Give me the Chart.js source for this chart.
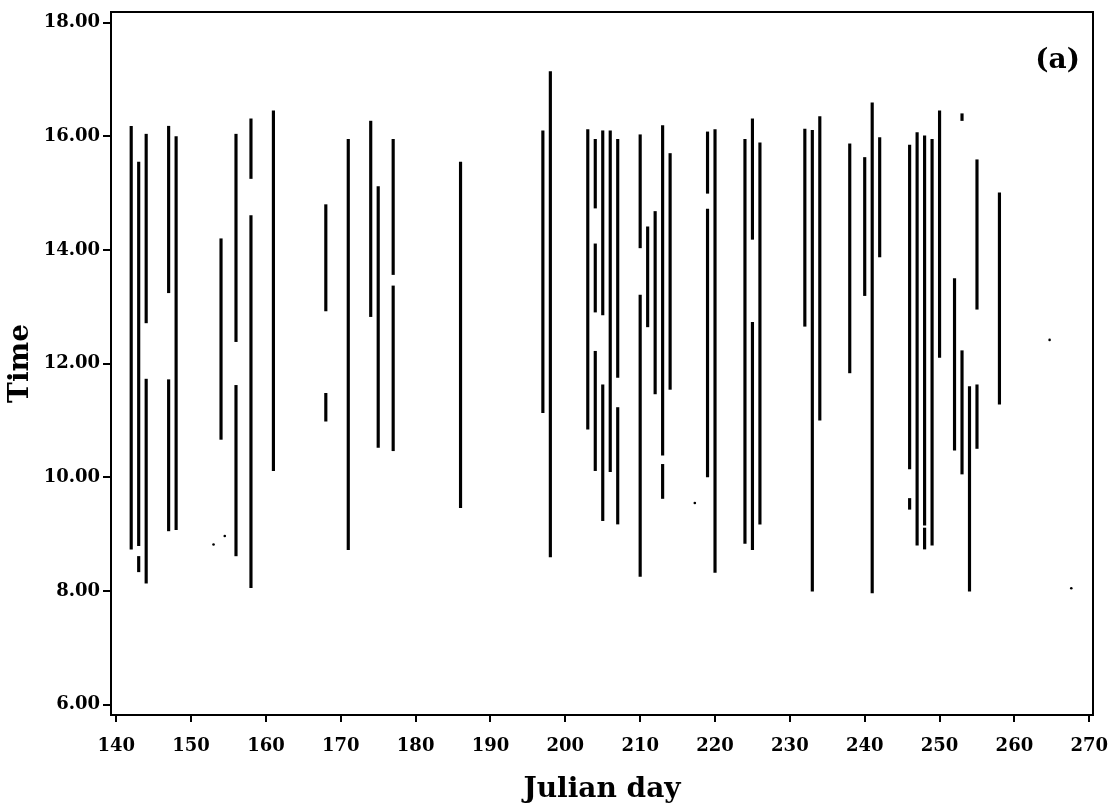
<!DOCTYPE html>
<html>
<head>
<meta charset="utf-8">
<script src="https://cdn.jsdelivr.net/npm/chart.js@4.4.0/dist/chart.umd.min.js"></script>
<style>
  body { margin: 0; background: #fff; }
  canvas { display: block; }
</style>
</head>
<body>
<canvas id="chartCanvas" width="1113" height="809"></canvas>
<script>
// observation segments: julian day, start time, end time
const segDays = [
    142, 143, 143, 144, 144, 147, 147, 148, 154, 156, 156, 158, 158, 161,
    168, 168, 171, 174, 175, 177, 177, 186,
    197, 198, 203, 204, 204, 204, 205, 205, 206, 207, 207, 210, 210, 211, 212, 213, 213, 214,
    219, 219, 220, 224, 225, 225, 226, 232, 233, 234, 238, 240, 241, 242,
    246, 246, 247, 248, 248, 249, 250, 252, 253, 253, 254, 255, 255, 258
];
const segStart = [
    8.74, 8.80, 8.34, 12.72, 8.14, 13.25, 9.06, 9.08, 10.67, 12.39, 8.62, 15.26, 8.06, 10.12,
    12.93, 10.99, 8.73, 12.83, 10.53, 13.57, 10.47, 9.47,
    11.14, 8.60, 10.85, 14.74, 12.91, 10.12, 12.86, 9.24, 10.10, 11.76, 9.18, 14.04, 8.26, 12.65, 11.47, 10.39, 9.63, 11.55,
    15.00, 10.01, 8.33, 8.84, 14.19, 8.73, 9.18, 12.66, 8.00, 11.01, 11.84, 13.20, 7.97, 13.88,
    10.15, 9.44, 8.81, 9.16, 8.74, 8.81, 12.11, 10.48, 10.06, 16.28, 8.00, 12.96, 10.51, 11.29
];
const segEnd = [
    16.18, 15.55, 8.61, 16.04, 11.73, 16.18, 11.72, 16.00, 14.20, 16.04, 11.62, 16.31, 14.61, 16.45,
    14.80, 11.48, 15.95, 16.27, 15.12, 15.95, 13.37, 15.55,
    16.10, 17.14, 16.12, 15.95, 14.11, 12.22, 16.10, 11.63, 16.10, 15.95, 11.23, 16.03, 13.21, 14.41, 14.68, 16.19, 10.23, 15.70,
    16.08, 14.72, 16.12, 15.95, 16.31, 12.73, 15.89, 16.13, 16.11, 16.35, 15.87, 15.63, 16.59, 15.98,
    15.85, 9.63, 16.07, 16.01, 9.11, 15.95, 16.45, 13.50, 12.23, 16.40, 11.60, 15.59, 11.63, 15.01
];

// isolated single readings
const dotDays = [153.0, 154.5, 217.3, 264.7, 267.6];
const dotTimes = [8.82, 8.97, 9.55, 12.42, 8.05];

const xTicks = [140, 150, 160, 170, 180, 190, 200, 210, 220, 230, 240, 250, 260, 270];
const yTicks = [6, 8, 10, 12, 14, 16, 18];

const tickFont = { family: 'DejaVu Serif', weight: 'bold', size: 18 };
const titleFont = { family: 'DejaVu Serif', weight: 'bold', size: 28 };

const framePlugin = {
    id: 'frame',
    afterDraw(chart) {
        const { ctx, chartArea } = chart;
        ctx.save();
        ctx.strokeStyle = '#000';
        ctx.lineWidth = 2;
        ctx.strokeRect(chartArea.left, chartArea.top, chartArea.right - chartArea.left, chartArea.bottom - chartArea.top);
        ctx.font = 'bold 28px "DejaVu Serif"';
        ctx.fillStyle = '#000';
        ctx.textAlign = 'right';
        ctx.textBaseline = 'middle';
        ctx.fillText('(a)', chartArea.right - 13, 61);
        ctx.restore();
    }
};

const ctx = document.getElementById('chartCanvas').getContext('2d');
new Chart(ctx, {
    type: 'bar',
    data: {
        datasets: [{
            type: 'bar',
            data: segDays.map((d, i) => ({ x: d, y: [segStart[i], segEnd[i]] })),
            backgroundColor: '#000',
            borderWidth: 0,
            barThickness: 2.5
        }, {
            type: 'scatter',
            data: dotDays.map((d, i) => ({ x: d, y: dotTimes[i] })),
            backgroundColor: '#000',
            borderWidth: 0,
            pointRadius: 1.3
        }]
    },
    options: {
        responsive: false,
        animation: false,
        layout: { padding: { top: 12, right: 20, left: 0, bottom: 0 } },
        plugins: {
            legend: { display: false },
            tooltip: { enabled: false }
        },
        scales: {
            x: {
                type: 'linear',
                min: 139.3,
                max: 270.5,
                offset: false,
                afterBuildTicks: (scale) => { scale.ticks = xTicks.map(v => ({ value: v })); },
                afterFit: (scale) => {
                    scale.height = 94;
                    scale.paddingLeft = 0;
                    scale.paddingRight = 0;
                },
                grid: { drawOnChartArea: false, offset: false, color: '#000', lineWidth: 2, tickLength: 7 },
                border: { color: '#000', width: 2 },
                ticks: { color: '#000', font: tickFont, padding: 14, maxRotation: 0 },
                title: { display: true, text: 'Julian day', color: '#000', font: titleFont, padding: { top: 0, bottom: 2 } }
            },
            y: {
                min: 5.82,
                max: 18.19,
                afterBuildTicks: (scale) => { scale.ticks = yTicks.map(v => ({ value: v })); },
                afterFit: (scale) => {
                    scale.width = 111;
                    scale.paddingTop = 0;
                    scale.paddingBottom = 0;
                },
                grid: { drawOnChartArea: false, color: '#000', lineWidth: 2, tickLength: 8 },
                border: { color: '#000', width: 2 },
                ticks: { color: '#000', font: tickFont, padding: 3, callback: (v) => v.toFixed(2) },
                title: { display: true, text: 'Time', color: '#000', font: titleFont, padding: { top: 4, bottom: 0 } }
            }
        }
    },
    plugins: [framePlugin]
});
</script>
</body>
</html>
